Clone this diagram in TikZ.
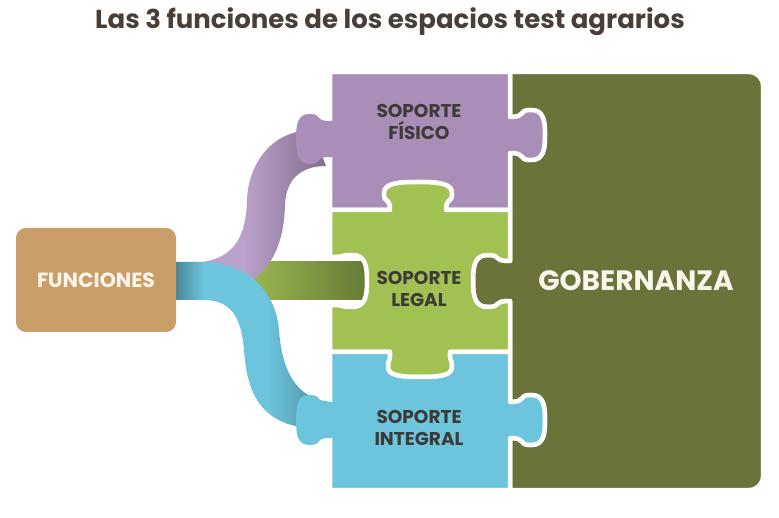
\documentclass[tikz,border=0pt]{standalone}
\usepackage{fontspec}
\setmainfont{Poppins}
\usepackage{xcolor}

\definecolor{tierra}{HTML}{C99E68}
\definecolor{crema}{HTML}{FBF6EC}
\definecolor{lila}{HTML}{A98EB7}
\definecolor{lilaclaro}{HTML}{BAA1C9}
\definecolor{lilaosc}{HTML}{836E8C}
\definecolor{verde}{HTML}{A2C153}
\definecolor{verdeosc}{HTML}{667A36}
\definecolor{azul}{HTML}{6CC4DD}
\definecolor{azulosc}{HTML}{4A8797}
\definecolor{oliva}{HTML}{69733A}
\definecolor{texto}{HTML}{3E3A36}
\definecolor{titulo}{HTML}{4A3F38}

\pgfdeclarehorizontalshading{cintaazul}{100bp}{color(0bp)=(azulosc); color(25bp)=(azulosc); color(34bp)=(azul); color(55bp)=(azul); color(75bp)=(azulosc); color(100bp)=(azulosc)}
\pgfdeclarehorizontalshading{cintalila}{100bp}{color(0bp)=(lilaclaro); color(25bp)=(lilaclaro); color(45bp)=(lilaclaro); color(75bp)=(lilaosc); color(100bp)=(lilaosc)}

% knob on a vertical edge: x, centre, depth, direction, neck, head
\newcommand{\vknob}[6]{-- (#1,{#2-(#4)*#5}) .. controls ({#1+0.5*(#3)},{#2-(#4)*#5}) and ({#1+0.2*(#3)},{#2-(#4)*#6}) .. ({#1+0.6*(#3)},{#2-(#4)*#6}) .. controls ({#1+0.95*(#3)},{#2-(#4)*#6}) and ({#1+(#3)},{#2-(#4)*0.6*#6}) .. ({#1+(#3)},#2) .. controls ({#1+(#3)},{#2+(#4)*0.6*#6}) and ({#1+0.95*(#3)},{#2+(#4)*#6}) .. ({#1+0.6*(#3)},{#2+(#4)*#6}) .. controls ({#1+0.2*(#3)},{#2+(#4)*#6}) and ({#1+0.5*(#3)},{#2+(#4)*#5}) .. (#1,{#2+(#4)*#5})}
% knob on a horizontal edge: y, centre, depth, direction, neck, head
\newcommand{\hknob}[6]{-- ({#2-(#4)*#5},#1) .. controls ({#2-(#4)*#5},{#1+0.5*(#3)}) and ({#2-(#4)*#6},{#1+0.2*(#3)}) .. ({#2-(#4)*#6},{#1+0.6*(#3)}) .. controls ({#2-(#4)*#6},{#1+0.95*(#3)}) and ({#2-(#4)*0.6*#6},{#1+(#3)}) .. (#2,{#1+(#3)}) .. controls ({#2+(#4)*0.6*#6},{#1+(#3)}) and ({#2+(#4)*#6},{#1+0.95*(#3)}) .. ({#2+(#4)*#6},{#1+0.6*(#3)}) .. controls ({#2+(#4)*#6},{#1+0.2*(#3)}) and ({#2+(#4)*#5},{#1+0.5*(#3)}) .. ({#2+(#4)*#5},#1)}

\begin{document}
\begin{tikzpicture}[x=1pt,y=-1pt,
  pieza/.style={draw=white,line width=4.5pt,line join=round},
  etiqueta/.style={text=texto,font=\bfseries\fontsize{18.5}{22}\selectfont,align=center}]

\useasboundingbox (0,0) rectangle (779,518);

%title
\node[text=titulo,font=\bfseries\fontsize{26}{30}\selectfont] at (390,22) (titulo) {Las 3 funciones de los espacios test agrarios};

%green bar
\shade[left color=verde, right color=verdeosc] (230,262) rectangle (368,300);

%pieces
\path[pieza,fill=oliva] (510,72) -- (749,72) .. controls (757,72) and (763,78) .. (763,86) -- (763,476) .. controls (763,484) and (757,490) .. (749,490) -- (510,490)
  \vknob{510}{420}{35}{-1}{18}{25} \vknob{510}{281}{-37}{-1}{20}{26} \vknob{510}{135}{35}{-1}{18}{25} -- cycle;
\path[pieza,fill=lila] (330,72) -- (510,72) \vknob{510}{135}{35}{1}{18}{25} -- (510,210)
  \hknob{210}{418}{-28}{-1}{28}{34} -- (330,210) \vknob{330}{139}{-34}{-1}{18}{25} -- cycle;
\path[pieza,fill=verde] (330,210) \hknob{210}{418}{-28}{1}{28}{34} -- (510,210) \vknob{510}{281}{-37}{1}{20}{26} -- (510,352)
  \hknob{352}{420}{25}{-1}{30}{32} -- (330,352) \vknob{330}{281}{37}{-1}{24}{26} -- cycle;
\path[pieza,fill=azul] (330,352) \hknob{352}{420}{25}{1}{30}{32} -- (510,352) \vknob{510}{420}{35}{1}{18}{25} -- (510,490)
  -- (330,490) \vknob{330}{420}{-34}{-1}{18}{25} -- cycle;

%ribbons
\shade[shading=cintalila] (190,263) .. controls (232,262) and (246,240) .. (247,200) .. controls (248,168) and (268,131) .. (312,130)
  -- (326,166) .. controls (300,166) and (286,180) .. (285,205) .. controls (284,245) and (270,272) .. (245,285) -- (190,285) -- cycle;
\shade[shading=cintaazul] (176,262) -- (203,262) .. controls (245,262) and (276,290) .. (279,330) .. controls (282,370) and (295,398) .. (330,402)
  -- (330,428) -- (300,427) .. controls (262,420) and (247,395) .. (244,350) .. controls (241,315) and (230,300) .. (203,300) -- (176,300) -- cycle;
\fill[lila] (336,157) \vknob{330}{139}{-34}{-1}{18}{25} -- (336,121) -- cycle;
\fill[azul] (336,438) \vknob{330}{420}{-34}{-1}{18}{25} -- (336,402) -- cycle;

%labels
\node[fill=tierra,rounded corners=10pt,minimum width=160,minimum height=104,text=crema,font=\bfseries\fontsize{20.5}{24}\selectfont] at (96,280) (func) {FUNCIONES};
\node[etiqueta] at (419,122) (fisico) {SOPORTE\\FÍSICO};
\node[etiqueta] at (419,289) (legal) {SOPORTE\\LEGAL};
\node[etiqueta] at (419,428) (integral) {SOPORTE\\INTEGRAL};
\node[text=crema,font=\bfseries\fontsize{28}{32}\selectfont] at (636,281) (gob) {GOBERNANZA};

\end{tikzpicture}
\end{document}
